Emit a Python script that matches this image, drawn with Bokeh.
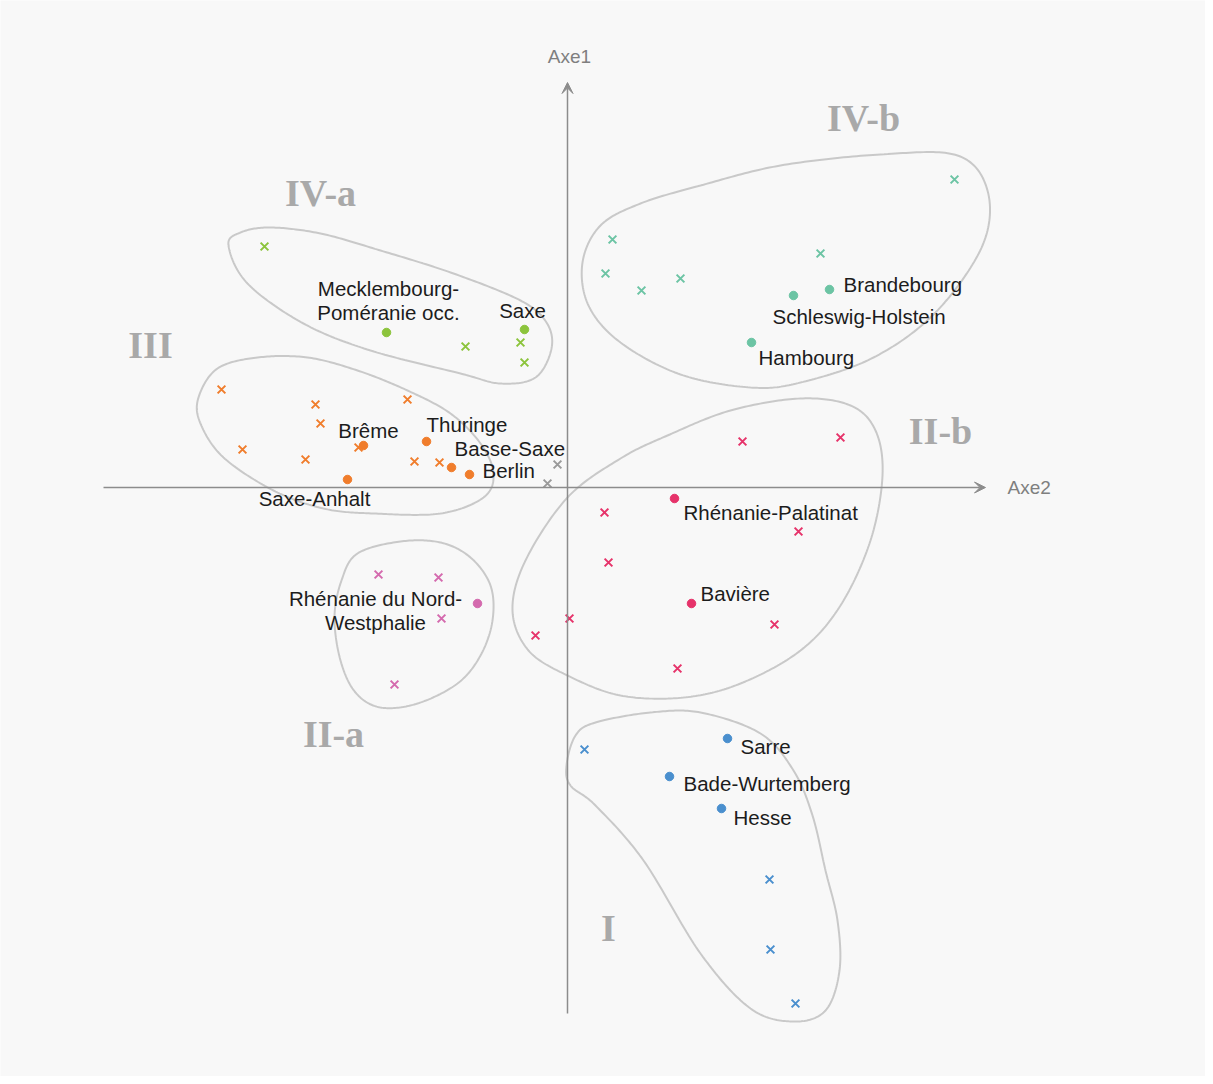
import numpy as np
from bokeh.plotting import figure
from bokeh.models import ColumnDataSource, Arrow, VeeHead
from bokeh.core.properties import value
from bokeh.embed import file_html
from bokeh.resources import INLINE

# ---------------- data ----------------
groups = ["IV-b", "IV-a", "III", "II-a", "II-b", "I", "autre"]
group_colors = ["#6cc4a4", "#8cc43c", "#f07d2c", "#d46aae", "#e6336a", "#4a8fce", "#9a9a9a"]

# Länder (filled dots), coordinates on (Axe2, Axe1)
state_names = ["Brandebourg", "Schleswig-Holstein", "Hambourg",
               "Mecklembourg-\nPoméranie occ.", "Saxe",
               "Brême", "Thuringe", "Basse-Saxe", "Berlin", "Saxe-Anhalt",
               "Rhénanie du Nord-\nWestphalie",
               "Rhénanie-Palatinat", "Bavière",
               "Sarre", "Bade-Wurtemberg", "Hesse"]
state_group = ["IV-b", "IV-b", "IV-b", "IV-a", "IV-a",
               "III", "III", "III", "III", "III",
               "II-a", "II-b", "II-b", "I", "I", "I"]
state_axe2 = [2.62, 2.26, 1.84, -1.81, -0.43,
              -2.04, -1.41, -1.16, -0.98, -2.20,
              -0.90, 1.07, 1.24, 1.60, 1.02, 1.54]
state_axe1 = [1.98, 1.92, 1.45, 1.55, 1.58,
              0.42, 0.46, 0.20, 0.13, 0.08,
              -1.16, -0.11, -1.16, -2.51, -2.89, -3.21]

# supplementary variables (crosses)
var_group = (["IV-b"] * 6 + ["IV-a"] * 4 + ["III"] * 9 + ["autre"] * 2 +
             ["II-a"] * 4 + ["II-b"] * 9 + ["I"] * 4)
var_axe2 = [3.87, 0.45, 0.38, 0.74, 1.13, 2.53,
            -3.03, -1.02, -0.47, -0.43,
            -3.46, -2.52, -2.47, -1.60, -3.25, -2.62, -2.09, -1.53, -1.28,
            -0.10, -0.20,
            -1.89, -1.29, -1.26, -1.73,
            1.75, 2.73, 0.37, 2.31, 0.41, 0.02, -0.32, 2.07, 1.10,
            0.17, 2.02, 2.03, 2.28]
var_axe1 = [3.08, 2.48, 2.14, 1.97, 2.09, 2.34,
            2.41, 1.41, 1.45, 1.25,
            0.98, 0.83, 0.64, 0.88, 0.38, 0.28, 0.40, 0.26, 0.25,
            0.23, 0.04,
            -0.87, -0.90, -1.31, -1.97,
            0.46, 0.50, -0.25, -0.44, -0.75, -1.31, -1.48, -1.37, -1.81,
            -2.62, -3.92, -4.62, -5.16]

# cluster outlines (control points of closed smooth curves)
hull_x = {
    "IV-b": [0.15, 0.33, 0.73, 1.33, 2.13, 3.13, 3.90, 4.20, 4.15, 3.68, 3.06, 2.33, 1.83, 1.13, 0.53, 0.21],
    "IV-a": [-3.39, -3.27, -2.97, -2.47, -1.87, -1.14, -0.47, -0.21, -0.16, -0.32, -0.67, -1.07, -1.97, -2.64, -3.20],
    "III": [-3.69, -3.50, -3.10, -2.60, -2.10, -1.60, -1.17, -0.87, -0.74, -0.84, -1.27, -1.94, -2.44, -2.94, -3.44, -3.67],
    "II-a": [-2.10, -1.67, -1.27, -0.97, -0.77, -0.75, -0.87, -1.10, -1.50, -1.87, -2.12, -2.27, -2.33, -2.26],
    "II-b": [-0.55, -0.42, 0.00, 0.53, 1.00, 1.63, 2.33, 2.83, 3.08, 3.15, 3.03, 2.73, 2.33, 1.73, 1.16, 0.53, 0.00, -0.39],
    "I": [-0.01, 0.08, 0.28, 0.83, 1.33, 1.93, 2.26, 2.45, 2.58, 2.70, 2.72, 2.58, 2.26, 1.83, 1.33, 0.76, 0.28, 0.03],
}
hull_y = {
    "IV-b": [2.25, 2.62, 2.84, 3.02, 3.22, 3.33, 3.32, 2.97, 2.42, 1.75, 1.30, 1.05, 1.00, 1.13, 1.45, 1.82],
    "IV-a": [2.42, 2.55, 2.60, 2.54, 2.37, 2.14, 1.87, 1.65, 1.39, 1.10, 1.04, 1.14, 1.37, 1.64, 2.04],
    "III": [0.90, 1.19, 1.30, 1.30, 1.17, 0.97, 0.74, 0.44, 0.14, -0.10, -0.26, -0.26, -0.21, -0.03, 0.30, 0.64],
    "II-a": [-0.66, -0.54, -0.55, -0.70, -0.98, -1.33, -1.68, -1.96, -2.16, -2.20, -2.05, -1.73, -1.30, -0.93],
    "II-b": [-1.23, -0.73, -0.10, 0.29, 0.52, 0.77, 0.89, 0.82, 0.57, 0.12, -0.53, -1.18, -1.63, -1.96, -2.10, -2.08, -1.88, -1.63],
    "I": [-2.78, -2.48, -2.35, -2.25, -2.25, -2.46, -2.83, -3.28, -3.83, -4.33, -4.83, -5.23, -5.34, -5.21, -4.66, -3.73, -3.18, -2.98],
}

group_label_text = ["IV-b", "IV-a", "III", "II-b", "II-a", "I"]
group_label_axe2 = [2.96, -2.47, -4.17, 3.73, -2.34, 0.41]
group_label_axe1 = [3.70, 2.95, 1.43, 0.57, -2.46, -4.40]

axis_extent_axe2 = [-4.64, 4.18]
axis_extent_axe1 = [-5.26, 4.05]

# label placement (screen-pixel offsets, alignment)
label_layout = {
    "Brandebourg": (14, -5, "left"),
    "Schleswig-Holstein": (-21, 21, "left"),
    "Hambourg": (7, 15, "left"),
    "Mecklembourg-\nPoméranie occ.": (2, -32, "center"),
    "Saxe": (-2, -19, "center"),
    "Brême": (5, -15, "center"),
    "Thuringe": (0, -17, "left"),
    "Basse-Saxe": (3, -19, "left"),
    "Berlin": (13, -4, "left"),
    "Saxe-Anhalt": (-33, 19, "center"),
    "Rhénanie du Nord-\nWestphalie": (-102, 7, "center"),
    "Rhénanie-Palatinat": (9, 14, "left"),
    "Bavière": (9, -10, "left"),
    "Sarre": (13, 8, "left"),
    "Bade-Wurtemberg": (14, 7, "left"),
    "Hesse": (12, 9, "left"),
}

# ---------------- figure ----------------
W, H = 1205, 1076
x0, y0 = 567, 487  # origin in frame pixels
scale = 100.0
p = figure(width=W, height=H, output_backend="svg", toolbar_location=None,
           x_range=(-x0 / scale, (W - x0) / scale),
           y_range=(-(H - y0) / scale, y0 / scale),
           x_axis_location=None, y_axis_location=None,
           min_border=0, background_fill_color="#f8f8f8",
           border_fill_color="#f8f8f8", outline_line_color=None)
p.grid.visible = False

cmap = dict(zip(groups, group_colors))


def closed_spline(xs, ys, n=24):
    P = np.column_stack([xs, ys])
    m = len(P)
    out = []
    for i in range(m):
        p0, p1, p2, p3 = P[(i - 1) % m], P[i], P[(i + 1) % m], P[(i + 2) % m]
        for t in np.linspace(0, 1, n, endpoint=False):
            t2, t3 = t * t, t * t * t
            out.append(0.5 * ((2 * p1) + (-p0 + p2) * t +
                              (2 * p0 - 5 * p1 + 4 * p2 - p3) * t2 +
                              (-p0 + 3 * p1 - 3 * p2 + p3) * t3))
    out.append(out[0])
    out = np.array(out)
    return out[:, 0], out[:, 1]


for g in hull_x:
    sx, sy = closed_spline(hull_x[g], hull_y[g])
    p.line(sx, sy, line_color="#c9c9c9", line_width=2)

# axes with arrows
axis_color = "#8c8c8c"
p.add_layout(Arrow(end=VeeHead(size=11, fill_color=axis_color, line_color=axis_color),
                   x_start=axis_extent_axe2[0], y_start=0, x_end=axis_extent_axe2[1], y_end=0,
                   line_color=axis_color, line_width=1.5))
p.add_layout(Arrow(end=VeeHead(size=11, fill_color=axis_color, line_color=axis_color),
                   x_start=0, y_start=axis_extent_axe1[0], x_end=0, y_end=axis_extent_axe1[1],
                   line_color=axis_color, line_width=1.5))
p.text(x=[0.02], y=[axis_extent_axe1[1]], text=["Axe1"], y_offset=-26,
       text_align="center", text_baseline="middle", text_color="#7f7f7f",
       text_font=value("Liberation Sans"), text_font_size="19px")
p.text(x=[axis_extent_axe2[1]], y=[0], text=["Axe2"], x_offset=22,
       text_align="left", text_baseline="middle", text_color="#7f7f7f",
       text_font=value("Liberation Sans"), text_font_size="19px")

# crosses
vsrc = ColumnDataSource(dict(x=var_axe2, y=var_axe1, c=[cmap[g] for g in var_group]))
p.scatter("x", "y", source=vsrc, marker="x", size=11, line_color="c", line_width=2.0)

# states
ssrc = ColumnDataSource(dict(x=state_axe2, y=state_axe1, c=[cmap[g] for g in state_group]))
p.scatter("x", "y", source=ssrc, marker="circle", size=8.5, fill_color="c", line_color="c")

# state labels
for align in ["left", "center"]:
    rows = [i for i, n in enumerate(state_names) if label_layout[n][2] == align]
    lsrc = ColumnDataSource(dict(
        x=[state_axe2[i] for i in rows], y=[state_axe1[i] for i in rows],
        t=[state_names[i] for i in rows],
        dx=[label_layout[state_names[i]][0] for i in rows],
        dy=[label_layout[state_names[i]][1] for i in rows]))
    p.text("x", "y", text="t", source=lsrc, x_offset="dx", y_offset="dy",
           text_align=align, text_baseline="middle", text_color="#1c1c1c",
           text_font=value("Liberation Sans"), text_font_size="20.5px",
           text_line_height=1.02)

# group labels
p.text(x=group_label_axe2, y=group_label_axe1, text=group_label_text,
       text_align="center", text_baseline="middle", text_color="#a9a9a9",
       text_font=value("Liberation Serif"), text_font_style="bold",
       text_font_size="38px")

open("out.html", "w").write(file_html(p, INLINE))
